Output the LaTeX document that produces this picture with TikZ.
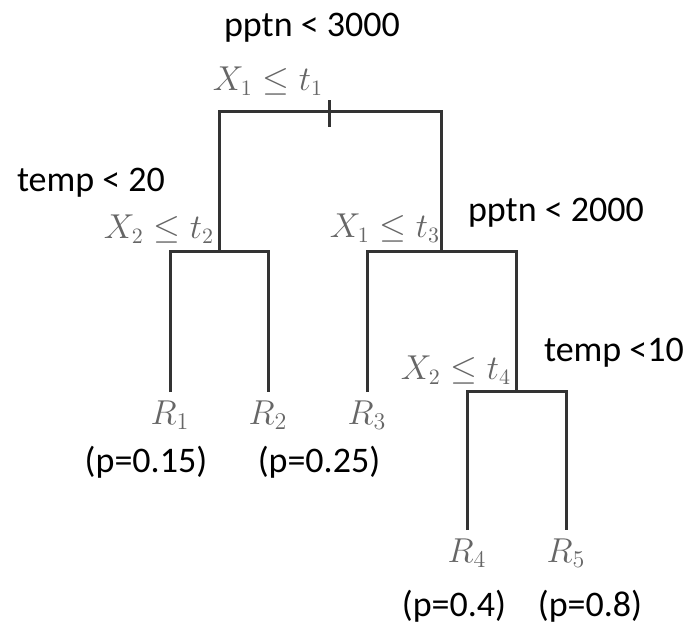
\documentclass[tikz,border=0pt]{standalone}
\usepackage{amsmath}
\usepackage{fontspec}
\newfontfamily\condfont{Carlito}
\usetikzlibrary{positioning}

\begin{document}
\begin{tikzpicture}[x=0.5pt, y=-0.5pt,
    branch/.style={draw=black!80, line width=1.5pt},
    splitlbl/.style={text=black!60, font=\fontsize{16}{19}\selectfont, inner sep=0pt},
    leaflbl/.style={text=black!60, font=\fontsize{17}{20}\selectfont, inner sep=0pt},
    condlbl/.style={font=\condfont\fontsize{18}{22}\selectfont, inner sep=0pt}]
    \useasboundingbox (0,0) rectangle (692,623);

    % Split points and leaf ends
    \coordinate (s1) at (329,111);
    \coordinate (s2) at (219,251);
    \coordinate (s3) at (441,251);
    \coordinate (s4) at (516,391);
    \coordinate (l1) at (170,392);
    \coordinate (l2) at (268,392);
    \coordinate (l3) at (367,392);
    \coordinate (l4) at (467,530);
    \coordinate (l5) at (566,530);

    % Tree branches
    \draw[branch] (s2) |- (s1) -| (s3);
    \draw[branch] (s1) ++(0,-11) -- ++(0,27);
    \draw[branch] (l1) |- (s2) -| (l2);
    \draw[branch] (l3) |- (s3) -| (s4);
    \draw[branch] (l4) |- (s4) -| (l5);

    % Split rules
    \node[splitlbl] (t1) at (268,81) {$X_1 \le t_1$};
    \node[splitlbl] (t2) at (159,229) {$X_2 \le t_2$};
    \node[splitlbl] (t3) at (385,228) {$X_1 \le t_3$};
    \node[splitlbl] (t4) at (456,370) {$X_2 \le t_4$};

    % Conditions in words
    \node[condlbl] (c1) at (312,28) {pptn < 3000};
    \node[condlbl] (c2) at (91,183) {temp < 20};
    \node[condlbl] (c3) at (556,213) {pptn < 2000};
    \node[condlbl] (c4) at (614,353) {temp <10};

    % Regions
    \foreach \i in {1,...,5}
      \node[leaflbl, below=4pt of l\i] (R\i) {$R_\i$};

    % Probabilities
    \foreach \i/\x/\y/\p in {1/146/462/0.15, 2/319/462/0.25, 4/454/606/0.4, 5/590/606/0.8}
      \node[condlbl] (p\i) at (\x,\y) {(p=\p)};
\end{tikzpicture}
\end{document}
